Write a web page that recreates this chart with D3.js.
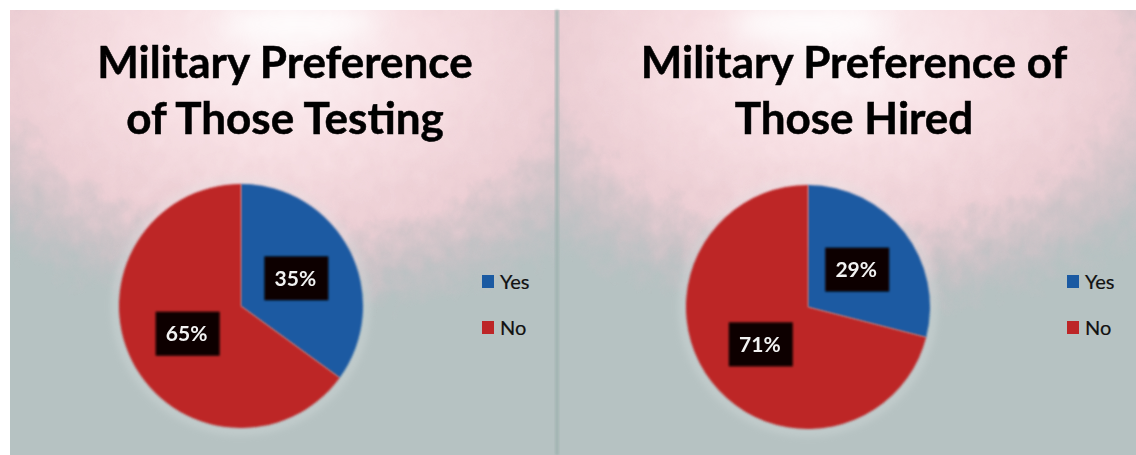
<!DOCTYPE html>
<html>
<head>
<meta charset="utf-8">
<script src="https://cdn.jsdelivr.net/npm/d3@7"></script>
<style>
  html, body { margin: 0; padding: 0; background: #ffffff; }
  svg { display: block; }
</style>
</head>
<body>
<svg id="chart" width="1136" height="455"></svg>
<script>
// Survey data: military preference among applicants who tested and those hired
const categories = ["Yes", "No"];
const testingValues = [35, 65];
const hiredValues = [29, 71];
const testingTitle = ["Military Preference", "of Those Testing"];
const hiredTitle = ["Military Preference of", "Those Hired"];

const W = 1136, H = 455;
const svg = d3.select("#chart");
const defs = svg.append("defs");

const color = d3.scaleOrdinal().domain(categories).range(["#1b5aa2", "#bd2527"]);

// Soft pinkish glow that fades into the grey-teal slide background
const glow = defs.append("radialGradient").attr("id", "glow")
  .attr("cx", "50%").attr("cy", "50%").attr("r", "50%");
glow.append("stop").attr("offset", "0%").attr("stop-color", "#fcf2f4").attr("stop-opacity", 1);
glow.append("stop").attr("offset", "35%").attr("stop-color", "#f7dfe3").attr("stop-opacity", 1);
glow.append("stop").attr("offset", "65%").attr("stop-color", "#efcfd5").attr("stop-opacity", 0.95);
glow.append("stop").attr("offset", "84%").attr("stop-color", "#dcc3ca").attr("stop-opacity", 0.5);
glow.append("stop").attr("offset", "100%").attr("stop-color", "#c8bcc4").attr("stop-opacity", 0);

// Speckled edge for the glow
const rough = defs.append("filter").attr("id", "rough")
  .attr("x", "-20%").attr("y", "-20%").attr("width", "140%").attr("height", "140%");
rough.append("feTurbulence").attr("type", "fractalNoise")
  .attr("baseFrequency", "0.06 0.05").attr("numOctaves", 4).attr("seed", 11).attr("result", "noise");
rough.append("feDisplacementMap").attr("in", "SourceGraphic").attr("in2", "noise")
  .attr("scale", 44).attr("xChannelSelector", "R").attr("yChannelSelector", "G");

const soft = defs.append("filter").attr("id", "soft")
  .attr("x", "-20%").attr("y", "-20%").attr("width", "140%").attr("height", "140%");
soft.append("feGaussianBlur").attr("stdDeviation", 1.2);

const halo = defs.append("filter").attr("id", "halo")
  .attr("x", "-30%").attr("y", "-30%").attr("width", "160%").attr("height", "160%");
halo.append("feGaussianBlur").attr("stdDeviation", 4);

const bigBlur = defs.append("filter").attr("id", "bigBlur")
  .attr("x", "-50%").attr("y", "-80%").attr("width", "200%").attr("height", "260%");
bigBlur.append("feGaussianBlur").attr("stdDeviation", 12);

const textBlur = defs.append("filter").attr("id", "textBlur");
textBlur.append("feGaussianBlur").attr("stdDeviation", 0.4);

svg.append("rect").attr("width", W).attr("height", H).attr("fill", "#ffffff");

const panels = [
  { values: testingValues, title: testingTitle, x0: 10, x1: 559, cx: 241, cy: 306,
    titleX: 285, glowX: 285, hotX: 300, legendX: 482 },
  { values: hiredValues, title: hiredTitle, x0: 559, x1: 1136, cx: 808, cy: 307,
    titleX: 854, glowX: 840, hotX: 810, legendX: 1067 }
];

const radius = 122;
const pie = d3.pie().sort(null).value(d => d.value);
const arc = d3.arc().innerRadius(0).outerRadius(radius);
const labelArc = d3.arc().innerRadius(radius * 0.5).outerRadius(radius * 0.5);

panels.forEach((p, i) => {
  const g = svg.append("g");
  const clipId = "clip" + i;
  defs.append("clipPath").attr("id", clipId)
    .append("rect").attr("x", p.x0).attr("y", 10).attr("width", p.x1 - p.x0).attr("height", H - 10);

  const bg = g.append("g").attr("clip-path", `url(#${clipId})`);
  bg.append("rect").attr("x", p.x0).attr("y", 10).attr("width", p.x1 - p.x0).attr("height", H - 10)
    .attr("fill", "#b6c2c2");
  bg.append("ellipse").attr("cx", p.glowX).attr("cy", 55).attr("rx", 430).attr("ry", 265)
    .attr("fill", "url(#glow)").attr("filter", "url(#rough)");
  bg.append("ellipse").attr("cx", p.hotX).attr("cy", 24).attr("rx", 80).attr("ry", 18)
    .attr("fill", "#ffffff").attr("opacity", 0.85).attr("filter", "url(#bigBlur)");

  // Title
  const title = g.append("text")
    .attr("text-anchor", "middle")
    .attr("font-family", "Lato, 'Open Sans', sans-serif")
    .attr("font-weight", 700)
    .attr("font-size", 44)
    .attr("fill", "#000000")
    .attr("stroke", "#000000").attr("stroke-width", 0.5)
    .attr("filter", "url(#textBlur)");
  p.title.forEach((line, k) => {
    title.append("tspan").attr("x", p.titleX).attr("y", 78 + k * 56).text(line);
  });

  // Pie
  const data = categories.map((c, k) => ({ category: c, value: p.values[k] }));
  const arcs = pie(data);
  const pg = g.append("g").attr("transform", `translate(${p.cx},${p.cy})`);
  pg.append("circle").attr("r", radius + 3).attr("fill", "none")
    .attr("stroke", "#dfe6e6").attr("stroke-width", 6).attr("opacity", 0.45)
    .attr("filter", "url(#halo)");
  pg.selectAll("path.slice").data(arcs).join("path")
    .attr("class", "slice")
    .attr("d", arc)
    .attr("fill", d => color(d.data.category))
    .attr("filter", "url(#soft)");

  // Data labels on dark boxes
  const lg = pg.selectAll("g.lab").data(arcs).join("g")
    .attr("class", "lab")
    .attr("transform", d => `translate(${labelArc.centroid(d)})`);
  lg.append("rect").attr("x", -31).attr("y", -22).attr("width", 64).attr("height", 44)
    .attr("fill", "#0a0606").attr("filter", "url(#soft)");
  lg.append("text")
    .attr("text-anchor", "middle").attr("dy", "0.36em")
    .attr("font-family", "Lato, 'Open Sans', sans-serif")
    .attr("font-weight", 700).attr("font-size", 21)
    .attr("fill", "#f2f2f2")
    .attr("filter", "url(#textBlur)")
    .text(d => d.data.value + "%");

  // Legend
  const leg = g.append("g").attr("transform", `translate(${p.legendX},275)`);
  const items = leg.selectAll("g").data(categories).join("g")
    .attr("transform", (d, k) => `translate(0,${k * 46})`);
  items.append("rect").attr("width", 12).attr("height", 13).attr("fill", d => color(d));
  items.append("text").attr("x", 18).attr("y", 13.5)
    .attr("font-family", "Lato, 'Open Sans', sans-serif")
    .attr("font-size", 20).attr("fill", "#111111")
    .attr("stroke", "#111111").attr("stroke-width", 0.2)
    .text(d => d);
});

// Thin seam between the two slides
svg.append("rect").attr("x", 555).attr("y", 10).attr("width", 4).attr("height", H - 10)
  .attr("fill", "#9fb3b0").attr("opacity", 0.8).attr("filter", "url(#soft)");
</script>
</body>
</html>
